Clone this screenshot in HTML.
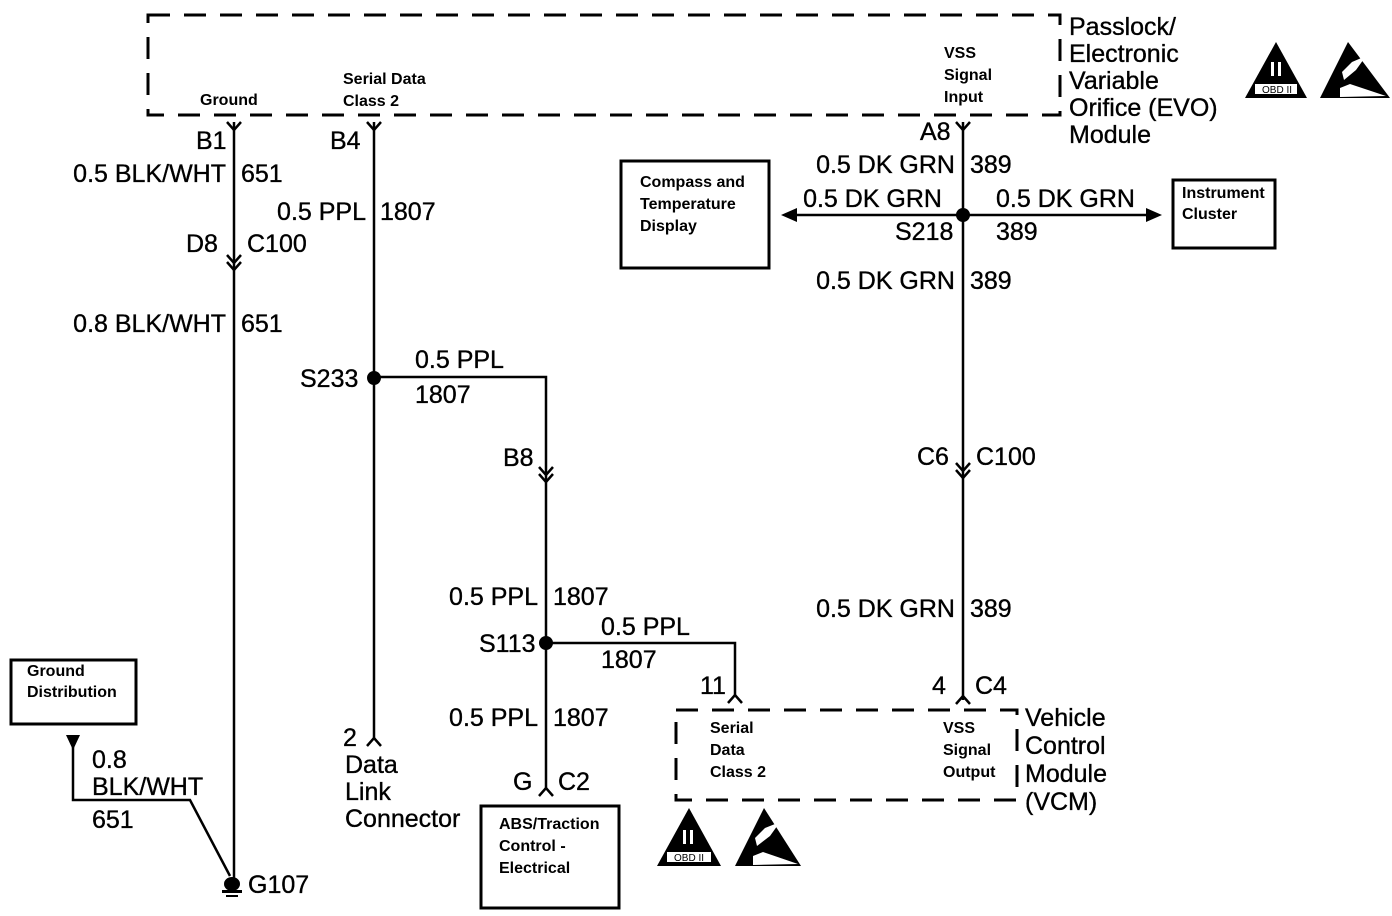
<!DOCTYPE html>
<html><head><meta charset="utf-8"><style>
html,body{margin:0;padding:0;background:#fff;}
svg{display:block;}
text{font-family:"Liberation Sans",sans-serif;fill:#000;}
.b{font-size:25px;stroke:#000;stroke-width:0.35px;}
.s{font-size:16px;font-weight:bold;}
</style></head><body>
<svg width="1392" height="916" viewBox="0 0 1392 916" xmlns="http://www.w3.org/2000/svg">
<g stroke="#000" fill="none" stroke-width="3">
<path d="M148 15 H1060 V115 H148 Z" stroke-dasharray="22 14"/>
<path d="M676 710 H1017 V800 H676 Z" stroke-dasharray="22 14"/>
</g>
<g stroke="#000" fill="none" stroke-width="3">
<rect x="621" y="161" width="148" height="107"/>
<rect x="1173" y="180" width="102" height="68"/>
<rect x="11" y="660" width="125" height="64"/>
<rect x="481" y="806" width="138" height="102"/>
</g>
<g stroke="#000" fill="none" stroke-width="2.5">
<line x1="234" y1="122" x2="234" y2="878"/>
<path d="M227 122 L234 130 L241 122"/>
<path d="M227 255 L234 263 L241 255 M227 262 L234 270 L241 262"/>
<line x1="374" y1="122" x2="374" y2="740"/>
<path d="M367 122 L374 130 L381 122"/>
<path d="M367 746 L374 738 L381 746"/>
<path d="M374 377 H546 V790"/>
<path d="M539 467 L546 475 L553 467 M539 474 L546 482 L553 474"/>
<path d="M539 796 L546 788 L553 796"/>
<path d="M546 643 H735 V697"/>
<path d="M728 703 L735 695 L742 703"/>
<line x1="963" y1="122" x2="963" y2="700"/>
<path d="M956 122 L963 130 L970 122"/>
<path d="M956 463 L963 471 L970 463 M956 470 L963 478 L970 470"/>
<path d="M956 704 L963 696 L970 704"/>
<line x1="790" y1="215" x2="1152" y2="215"/>
<path d="M73 745 V800 H190 L230 876"/>
</g>
<g fill="#000">
<circle cx="374" cy="378" r="7"/>
<circle cx="546" cy="643" r="7"/>
<circle cx="963" cy="215" r="7"/>
<polygon points="781,215 797,208 797,222"/>
<polygon points="1162,215 1146,208 1146,222"/>
<polygon points="66,735 80,735 73,750"/>
<ellipse cx="232" cy="884" rx="8" ry="7"/>
<rect x="222" y="890" width="20" height="3"/>
<rect x="226" y="895" width="12" height="2"/>
<polygon points="1276,42 1245,98 1307,98"/>
<polygon points="1348,42 1320,98 1390,98"/>
<polygon points="689,808 657,866 721,866"/>
<polygon points="764,808 735,866 801,866"/>
</g>
<g fill="#fff">
<rect x="1255" y="84" width="42" height="10"/>
<rect x="1271" y="62" width="3" height="14"/><rect x="1278" y="62" width="3" height="14"/>
<rect x="667" y="852" width="44" height="10"/>
<rect x="683" y="830" width="3" height="14"/><rect x="690" y="830" width="3" height="14"/>
<polygon points="1342,72 1352,62 1366,56 1356,70 1344,80"/>
<polygon points="1340,88 1350,84 1386,96 1340,97"/>
<polygon points="755,838 765,828 780,822 770,836 757,846"/>
<polygon points="753,856 763,852 798,864 753,865"/>
</g>
<g font-size="10">
<text x="1262" y="93" font-size="10">OBD II</text>
<text x="674" y="861" font-size="10">OBD II</text>
</g>
<g class="s">
<text x="200" y="105">Ground</text>
<text x="343" y="84">Serial Data</text>
<text x="343" y="106">Class 2</text>
<text x="944" y="58">VSS</text>
<text x="944" y="80">Signal</text>
<text x="944" y="102">Input</text>
<text x="640" y="187">Compass and</text>
<text x="640" y="209">Temperature</text>
<text x="640" y="231">Display</text>
<text x="1182" y="198">Instrument</text>
<text x="1182" y="219">Cluster</text>
<text x="27" y="676">Ground</text>
<text x="27" y="697">Distribution</text>
<text x="499" y="829">ABS/Traction</text>
<text x="499" y="851">Control -</text>
<text x="499" y="873">Electrical</text>
<text x="710" y="733">Serial</text>
<text x="710" y="755">Data</text>
<text x="710" y="777">Class 2</text>
<text x="943" y="733">VSS</text>
<text x="943" y="755">Signal</text>
<text x="943" y="777">Output</text>
</g>
<g class="b">
<text x="1069" y="35">Passlock/</text>
<text x="1069" y="62">Electronic</text>
<text x="1069" y="89">Variable</text>
<text x="1069" y="116">Orifice (EVO)</text>
<text x="1069" y="143">Module</text>
<text x="196" y="149">B1</text>
<text x="330" y="149">B4</text>
<text x="226" y="182" text-anchor="end">0.5 BLK/WHT</text>
<text x="241" y="182">651</text>
<text x="366" y="220" text-anchor="end">0.5 PPL</text>
<text x="380" y="220">1807</text>
<text x="186" y="252">D8</text>
<text x="247" y="252">C100</text>
<text x="226" y="332" text-anchor="end">0.8 BLK/WHT</text>
<text x="241" y="332">651</text>
<text x="300" y="387">S233</text>
<text x="415" y="368">0.5 PPL</text>
<text x="415" y="403">1807</text>
<text x="503" y="466">B8</text>
<text x="538" y="605" text-anchor="end">0.5 PPL</text>
<text x="553" y="605">1807</text>
<text x="479" y="652">S113</text>
<text x="601" y="635">0.5 PPL</text>
<text x="601" y="668">1807</text>
<text x="700" y="694">11</text>
<text x="538" y="726" text-anchor="end">0.5 PPL</text>
<text x="553" y="726">1807</text>
<text x="513" y="790">G</text>
<text x="558" y="790">C2</text>
<text x="343" y="746">2</text>
<text x="345" y="773">Data</text>
<text x="345" y="800">Link</text>
<text x="345" y="827">Connector</text>
<text x="92" y="768">0.8</text>
<text x="92" y="795">BLK/WHT</text>
<text x="92" y="828">651</text>
<text x="248" y="893">G107</text>
<text x="920" y="140">A8</text>
<text x="955" y="173" text-anchor="end">0.5 DK GRN</text>
<text x="970" y="173">389</text>
<text x="942" y="207" text-anchor="end">0.5 DK GRN</text>
<text x="996" y="207">0.5 DK GRN</text>
<text x="895" y="240">S218</text>
<text x="996" y="240">389</text>
<text x="955" y="289" text-anchor="end">0.5 DK GRN</text>
<text x="970" y="289">389</text>
<text x="917" y="465">C6</text>
<text x="976" y="465">C100</text>
<text x="955" y="617" text-anchor="end">0.5 DK GRN</text>
<text x="970" y="617">389</text>
<text x="932" y="694">4</text>
<text x="975" y="694">C4</text>
<text x="1025" y="726">Vehicle</text>
<text x="1025" y="754">Control</text>
<text x="1025" y="782">Module</text>
<text x="1025" y="810">(VCM)</text>
</g>
</svg>
</body></html>
